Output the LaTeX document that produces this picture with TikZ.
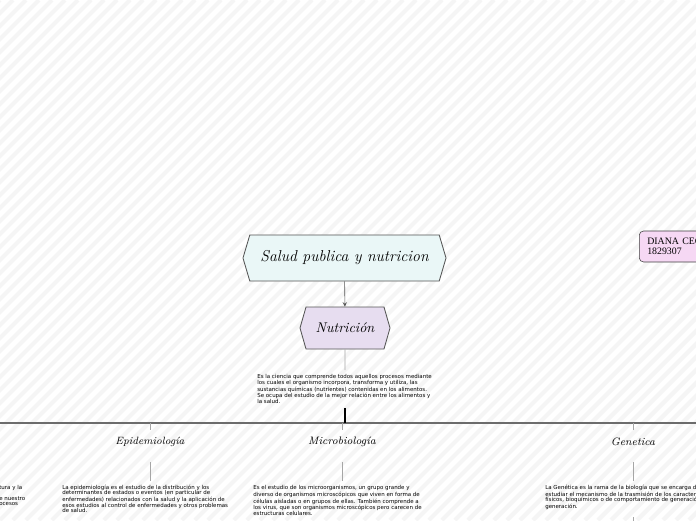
\documentclass[tikz,border=0pt]{standalone}
\usepackage{fontspec}
\newfontfamily\descfont{DejaVu Sans}
\newfontfamily\namefont{Liberation Serif}
\usetikzlibrary{shapes.symbols}
\definecolor{rootfill}{HTML}{EAF7F7}
\definecolor{nutrifill}{HTML}{E7DDF0}
\definecolor{namefill}{HTML}{F6D8F4}
\definecolor{edgecol}{HTML}{555555}
\definecolor{stripecol}{HTML}{F5F5F5}
\tikzset{
  hexa/.style={signal, signal to=west and east, draw=edgecol, line width=0.6pt, align=center, inner sep=0pt},
  title/.style={font=\itshape\fontsize{7.7}{9}\selectfont, minimum height=0.6cm, inner sep=0pt},
  desc/.style={font=\descfont\fontsize{3.9}{3.85}\selectfont, align=left, anchor=north west, inner xsep=0pt, inner ysep=3pt},
  link/.style={draw=gray!70, line width=0.5pt},
}
\begin{document}
\begin{tikzpicture}[x=0.025cm, y=-0.025cm]
\clip (0,0) rectangle (696,520);
\fill[white] (0,0) rectangle (696,520);
\foreach \s in {-520,-507,...,700}
  \draw[stripecol, line width=3pt] (\s,520) -- ++(520,-520);

% top of the map
\node[hexa, fill=rootfill, signal pointer angle=147, minimum width=5.075cm, minimum height=1.15cm, font=\itshape\fontsize{11.2}{13}\selectfont] (root) at (344.5,258) {Salud publica y nutricion};
\node[hexa, fill=nutrifill, signal pointer angle=148, minimum width=2.25cm, minimum height=1.05cm, font=\itshape\fontsize{10}{12}\selectfont] (nutri) at (345,328) {Nutrición};
\draw[->,>=stealth,draw=edgecol] (root) -- (nutri);

\node[draw=black!75, fill=namefill, rounded corners=3pt, anchor=west, text width=3cm, align=left, inner xsep=5.7pt, minimum height=0.775cm, font=\namefont\fontsize{7}{7.2}\selectfont] (name) at (639,246.5) {DIANA CEC\\1829307};

\node[desc] (nutridesc) at (257,370) {Es la ciencia que comprende todos aquellos procesos mediante\\los cuales el organismo incorpora, transforma y utiliza, las\\sustancias químicas (nutrientes) contenidas en los alimentos.\\Se ocupa del estudio de la mejor relación entre los alimentos y\\la salud.};
\draw[link] (nutri) -- (nutri |- nutridesc.north);

% trunk
\coordinate (hub) at (345,423);
\coordinate (trunkL) at (-5,423);
\coordinate (trunkR) at (701,423);
\draw[gray!85!black, line width=0.9pt] (trunkL) -- (trunkR);
\draw[line width=1.4pt] (hub |- nutridesc.south) -- (hub);

% branches
\coordinate (b1) at (150,423);
\coordinate (b2) at (342,423);
\coordinate (b3) at (633,423);
\node[title, font=\itshape\fontsize{7.5}{9}\selectfont] (epi) at (150,442) {Epidemiología};
\node[title] (micro) at (342,442) {Microbiología};
\node[title] (gene) at (633,442) {Genetica};
\draw[link] (b1) -- (epi);
\draw[link] (b2) -- (micro);
\draw[link] (b3) -- (gene);

\node[desc] (leftdesc) at (-1,480.5) {tura y la\\ \mbox{}\\e nuestro\\ocesos};
\node[desc] (epidesc) at (62,480.5) {La epidemiología es el estudio de la distribución y los\\determinantes de estados o eventos (en particular de\\enfermedades) relacionados con la salud y la aplicación de\\esos estudios al control de enfermedades y otros problemas\\de salud.};
\node[desc] (microdesc) at (253,480.5) {Es el estudio de los microorganismos, un grupo grande y\\diverso de organismos microscópicos que viven en forma de\\células aisladas o en grupos de ellas. También comprende a\\los virus, que son organismos microscópicos pero carecen de\\estructuras celulares.};
\node[desc] (genedesc) at (545,480.5) {La Genética es la rama de la biología que se encarga de\\estudiar el mecanismo de la trasmisión de los caracteres\\físicos, bioquímicos o de comportamiento de generación\\generación.};
\draw[link, shorten <=5.7pt] (epi) -- (epi |- epidesc.north);
\draw[link, shorten <=5.7pt] (micro) -- (micro |- microdesc.north);
\draw[link, shorten <=5.7pt] (gene) -- (gene |- genedesc.north);
\coordinate (geneend) at (633,530);
\draw[link, shorten <=2pt] (gene |- genedesc.south) -- (geneend);
\end{tikzpicture}
\end{document}
